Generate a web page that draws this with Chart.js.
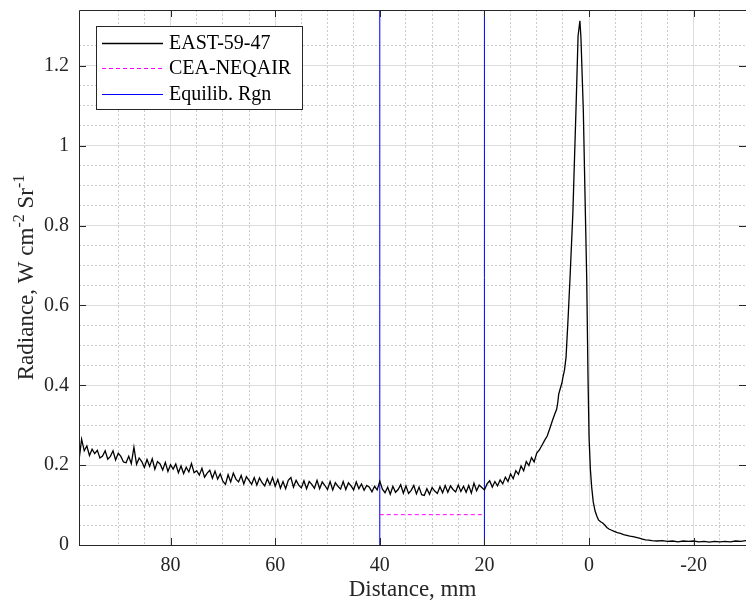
<!DOCTYPE html>
<html><head><meta charset="utf-8">
<script src="https://cdn.jsdelivr.net/npm/chart.js@4.4.1/dist/chart.umd.min.js"></script>
<style>html,body{margin:0;padding:0;background:#fff;overflow:hidden}canvas{display:block}</style>
</head><body>
<canvas id="c" width="746" height="602"></canvas>
<script>
// ---- data ----
const distance = [
  97.5,97,96.5,96,95.5,95,94.5,94,93.5,93,92.5,92,91.5,91,90.5,90,89.5,89,88.5,88,
  87.5,87,86.5,86,85.5,85,84.5,84,83.5,83,82.5,82,81.5,81,80.5,80,79.5,79,78.5,78,
  77.5,77,76.5,76,75.5,75,74.5,74,73.5,73,72.5,72,71.5,71,70.5,70,69.5,69,68.5,68,
  67.5,67,66.5,66,65.5,65,64.5,64,63.5,63,62.5,62,61.5,61,60.5,60,59.5,59,58.5,58,
  57.5,57,56.5,56,55.5,55,54.5,54,53.5,53,52.5,52,51.5,51,50.5,50,49.5,49,48.5,48,
  47.5,47,46.5,46,45.5,45,44.5,44,43.5,43,42.5,42,41.5,41,40.5,40,39.5,39,38.5,38,
  37.5,37,36.5,36,35.5,35,34.5,34,33.5,33,32.5,32,31.5,31,30.5,30,29.5,29,28.5,28,
  27.5,27,26.5,26,25.5,25,24.5,24,23.5,23,22.5,22,21.5,21,20.5,20,19.5,19,18.5,18,
  17.5,17,16.5,16,15.5,15,14.5,14,13.5,13,12.5,12,11.5,11,10.5,10,
  9.5,9,8.5,8,7.5,7,6.5,6.2,6,5.8,5.5,5.2,5,4.7,4.4,4,3.6,3.1,2.5,2.1,1.75,1.55,1.1,0.75,0.45,0.2,0,-0.25,-0.5,-0.8,-1.15,-1.5,-1.8,-2.2,-2.6,
  -3,-3.4,-3.8,-4.3,-4.8,-5.4,-6,-6.6,-7.2,-7.8,-8.4,-9,-9.6,-10.2,-10.8,-11.4,-12,-13,-14,-15,-16,-17,-18,-19,-20,-21,-22,-23,-24,-25,-26,-27,-28,-29,-30
];
const radiance = [
  .212,.265,.236,.248,.224,.24,.229,.237,.218,.223,.236,.215,.222,.236,.213,.23,.222,.208,.206,.222,
  .204,.245,.202,.218,.209,.194,.214,.197,.216,.19,.209,.203,.188,.207,.184,.201,.19,.203,.181,.198,
  .179,.195,.183,.204,.181,.186,.175,.192,.17,.18,.187,.167,.185,.165,.178,.16,.152,.176,.158,.18,
  .165,.158,.174,.153,.171,.162,.152,.169,.15,.168,.156,.148,.166,.151,.169,.147,.164,.142,.159,.141,
  .162,.169,.145,.162,.15,.143,.161,.141,.159,.152,.142,.162,.141,.158,.149,.139,.159,.138,.156,.147,
  .14,.159,.139,.156,.148,.138,.158,.141,.153,.137,.149,.145,.133,.147,.138,.16,.14,.131,.145,.127,
  .147,.132,.139,.151,.13,.148,.129,.137,.149,.128,.145,.126,.124,.141,.127,.144,.135,.129,.146,.131,
  .149,.132,.148,.139,.133,.15,.134,.147,.132,.149,.13,.155,.136,.15,.144,.138,.153,.161,.145,.159,
  .148,.163,.153,.17,.159,.178,.166,.186,.177,.198,.186,.209,.199,.219,.208,.23,
  .238,.25,.262,.273,.292,.312,.33,.34,.355,.378,.392,.405,.42,.438,.47,.57,.68,.83,1.09,1.275,1.313,1.27,1.09,.86,.67,.42,.27,.19,.145,.108,.085,.072,.063,.058,.055,
  .05,.044,.04,.037,.034,.031,.029,.026,.024,.022,.021,.019,.017,.015,.013,.012,.011,.01,.011,.009,.01,.008,.01,.009,.01,.008,.009,.007,.009,.008,.009,.008,.01,.009,.011
];
const neqairX = [40, 20];
const neqairY = [0.076, 0.076];
const eqRgnX = [40, 20];
const xMin = -30, xMax = 97.5;
const yMin = 0, yMax = 1.34;
const xMajorTicks = [80, 60, 40, 20, 0, -20];
const yMajorTicks = [0, 0.2, 0.4, 0.6, 0.8, 1, 1.2];
const seriesLabels = ['EAST-59-47', 'CEA-NEQAIR', 'Equilib. Rgn'];
const yTitleParts = [['Radiance, W cm', false], ['-2', true], [' Sr', false], ['-1', true]];
const xTitle = 'Distance, mm';

// ---- build ----
const FONT = "'Liberation Serif', 'Times New Roman', serif";
const AX = '#262626';
const isMult = (v, s) => Math.abs(v / s - Math.round(v / s)) < 1e-6;

const eastData = distance.map((x, i) => ({x, y: radiance[i]}));
const neqData = neqairX.map((x, i) => ({x, y: neqairY[i]}));
const eqData = [];
eqRgnX.forEach((x, i) => {
  if (i > 0) eqData.push({x, y: null});
  eqData.push({x, y: yMin}, {x, y: yMax});
});

function gridColor(step, major) {
  return ctx => {
    if (!ctx.tick) return 'rgba(0,0,0,0)';
    const v = ctx.tick.value;
    if (isMult(v, major)) return '#dcdcdc';
    if (isMult(v, step)) return '#cccccc';
    return 'rgba(0,0,0,0)';
  };
}
function gridDash(major) {
  return ctx => {
    if (!ctx.tick) return [];
    return isMult(ctx.tick.value, major) ? [] : [2, 2];
  };
}
function noPad(s) { s.paddingTop = 0; s.paddingBottom = 0; s.paddingLeft = 0; s.paddingRight = 0; }

const framePlugin = {
  id: 'frame',
  afterDatasetsDraw(chart) {
    const {ctx, chartArea: a, scales} = chart;
    ctx.save();
    ctx.strokeStyle = AX;
    ctx.lineWidth = 1;
    ctx.beginPath();
    ctx.rect(a.left + 0.5, a.top + 0.5, a.right - a.left, a.bottom - a.top);
    ctx.stroke();
    ctx.beginPath();
    const tl = 7;
    xMajorTicks.forEach(v => {
      const px = Math.round(scales.x.getPixelForValue(v)) + 0.5;
      ctx.moveTo(px, a.bottom); ctx.lineTo(px, a.bottom - tl);
      ctx.moveTo(px, a.top); ctx.lineTo(px, a.top + tl);
    });
    yMajorTicks.forEach(v => {
      const py = Math.round(scales.y.getPixelForValue(v)) + 0.5;
      ctx.moveTo(a.left, py); ctx.lineTo(a.left + tl, py);
      ctx.moveTo(a.right, py); ctx.lineTo(a.right - tl, py);
    });
    ctx.stroke();

    // legend box
    const lx = a.left + 17, ly = a.top + 16, lw = 206, lh = 83;
    ctx.fillStyle = '#fff';
    ctx.fillRect(lx, ly, lw, lh);
    ctx.strokeStyle = AX;
    ctx.strokeRect(lx + 0.5, ly + 0.5, lw, lh);
    ctx.font = '20px ' + FONT;
    ctx.textBaseline = 'middle';
    ctx.textAlign = 'left';
    chart.data.datasets.forEach((ds, i) => {
      const cy = ly + 16.5 + i * 25.5;
      ctx.save();
      ctx.strokeStyle = ds.borderColor;
      ctx.lineWidth = ds.borderWidth;
      ctx.setLineDash(ds.borderDash || []);
      ctx.beginPath();
      ctx.moveTo(lx + 6, Math.round(cy) + 0.5);
      ctx.lineTo(lx + 67, Math.round(cy) + 0.5);
      ctx.stroke();
      ctx.restore();
      ctx.fillStyle = '#000';
      ctx.fillText(ds.label, lx + 73, cy + 1);
    });

    // y axis title with superscripts
    ctx.save();
    const cyc = (a.top + a.bottom) / 2;
    ctx.translate(33, cyc);
    ctx.rotate(-Math.PI / 2);
    ctx.fillStyle = AX;
    ctx.textBaseline = 'alphabetic';
    const big = '23px ' + FONT, small = '16px ' + FONT;
    let total = 0;
    yTitleParts.forEach(([t, sup]) => { ctx.font = sup ? small : big; total += ctx.measureText(t).width; });
    let x = -total / 2;
    yTitleParts.forEach(([t, sup]) => {
      ctx.font = sup ? small : big;
      ctx.fillText(t, x, sup ? -9 : 0);
      x += ctx.measureText(t).width;
    });
    ctx.restore();
    ctx.restore();
  }
};

new Chart(document.getElementById('c'), {
  type: 'line',
  data: {
    datasets: [
      {label: seriesLabels[0], data: eastData, borderColor: '#000000', borderWidth: 1.3, pointRadius: 0, tension: 0},
      {label: seriesLabels[1], data: neqData, borderColor: '#ff00ff', borderWidth: 1, borderDash: [4, 3], pointRadius: 0},
      {label: seriesLabels[2], data: eqData, borderColor: '#0000ff', borderWidth: 1, pointRadius: 0, spanGaps: false}
    ]
  },
  options: {
    responsive: false,
    animation: false,
    devicePixelRatio: 1,
    layout: {padding: {top: 10, right: 0, left: 0, bottom: 0}},
    plugins: {legend: {display: false}, tooltip: {enabled: false}},
    scales: {
      x: {
        type: 'linear', reverse: true, min: xMin, max: xMax,
        afterFit: s => { s.height = 57; noPad(s); },
        ticks: {stepSize: 5, autoSkip: false, maxRotation: 0, minRotation: 0, padding: 9, color: AX,
          font: {family: FONT, size: 20},
          callback: v => isMult(v, 20) ? String(Math.round(v)) : ''},
        grid: {drawTicks: false, color: gridColor(5, 20), lineWidth: 1},
        border: {display: false, dash: gridDash(20)},
        title: {display: true, text: xTitle, color: AX, font: {family: FONT, size: 23}, padding: {top: 0, bottom: -2}}
      },
      y: {
        type: 'linear', min: yMin, max: yMax,
        afterFit: s => { s.width = 79; noPad(s); },
        ticks: {stepSize: 0.05, autoSkip: false, padding: 10, color: AX,
          font: {family: FONT, size: 20},
          callback: v => isMult(v, 0.2) ? String(Math.round(v * 10) / 10) : ''},
        grid: {drawTicks: false, color: gridColor(0.05, 0.2), lineWidth: 1},
        border: {display: false, dash: gridDash(0.2)},
        title: {display: false}
      }
    }
  },
  plugins: [framePlugin]
});
</script>
</body></html>
